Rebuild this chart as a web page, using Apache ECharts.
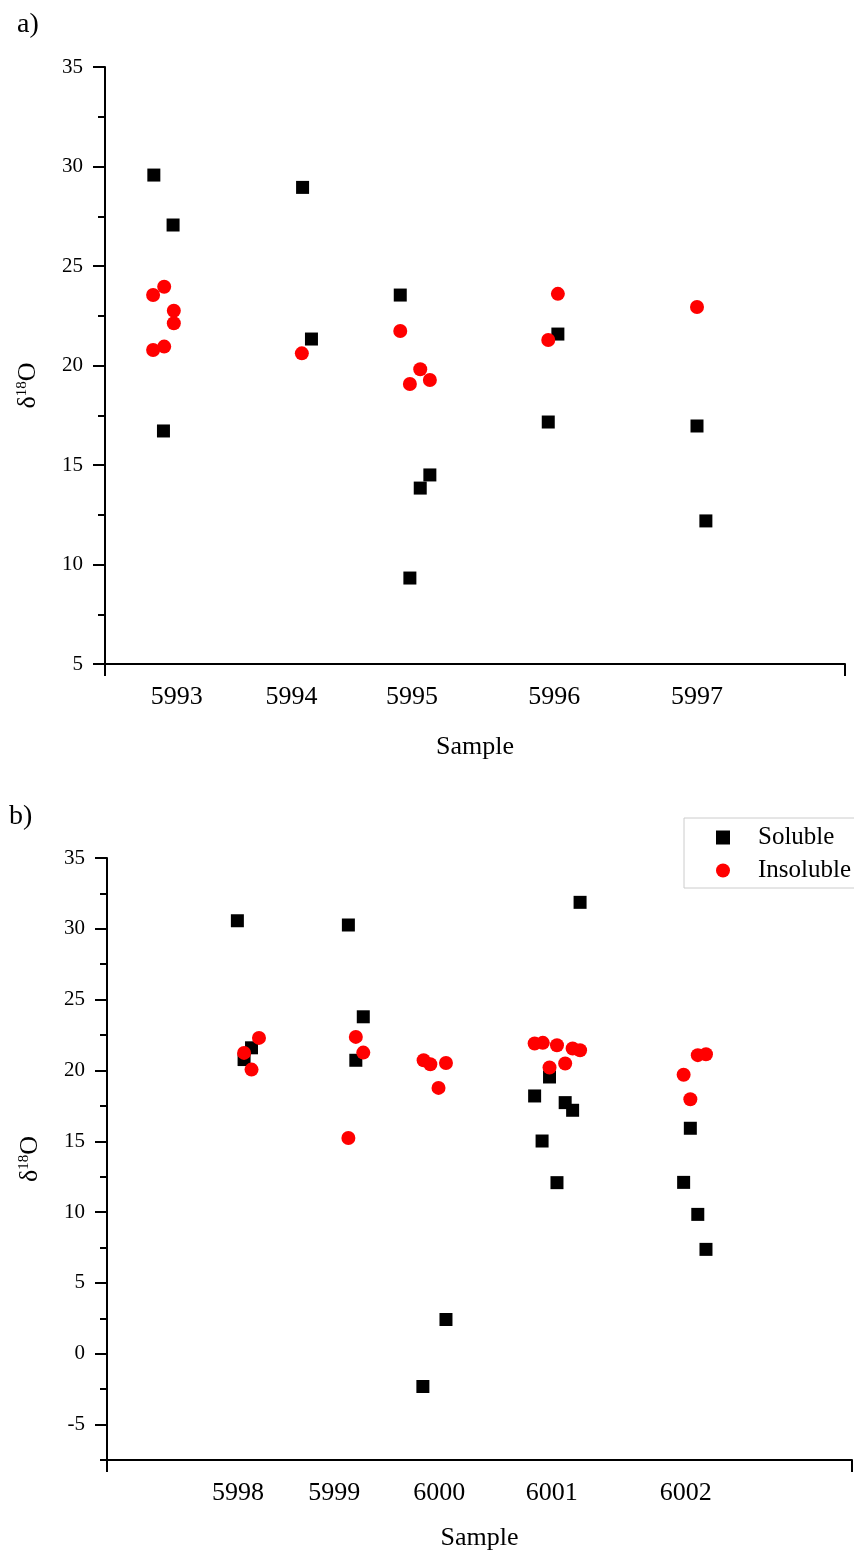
<!DOCTYPE html>
<html>
<head>
<meta charset="utf-8">
<title>d18O by sample</title>
<script src="https://cdn.jsdelivr.net/npm/echarts@6/dist/echarts.min.js"></script>
<style>
    html, body { margin: 0; padding: 0; background: #ffffff; }
    #chart { width: 854px; height: 1556px; }
</style>
</head>
<body>
<div id="chart"></div>
<script>
    /**
     * data, x is the jittered position along the axis (0 - 100)
     */
    var sampleNamesA = ['5993', '5994', '5995', '5996', '5997'];
    var samplePosA = [9.7, 25.2, 41.5, 60.7, 80.0];
    var sampleNamesB = ['5998', '5999', '6000', '6001', '6002'];
    var samplePosB = [17.6, 30.5, 44.6, 59.7, 77.7];

    var majorTicksA = [5, 10, 15, 20, 25, 30, 35];
    var minorTicksA = [7.5, 12.5, 17.5, 22.5, 27.5, 32.5];
    var majorTicksB = [-5, 0, 5, 10, 15, 20, 25, 30, 35];
    var minorTicksB = [-7.5, -2.5, 2.5, 7.5, 12.5, 17.5, 22.5, 27.5, 32.5];

    var solubleA = [
        [6.6, 29.57], [9.2, 27.06], [7.9, 16.71],
        [26.7, 28.95], [27.9, 21.33],
        [39.9, 23.54], [42.6, 13.84], [43.9, 14.5], [41.2, 9.32],
        [59.9, 17.16], [61.2, 21.58],
        [80.0, 16.96], [81.2, 12.19]
    ];
    var insolubleA = [
        [6.5, 23.54], [8.0, 23.96], [9.3, 22.75], [9.3, 22.12], [6.5, 20.78], [8.0, 20.95],
        [26.6, 20.61],
        [39.9, 21.73], [42.6, 19.81], [41.2, 19.07], [43.9, 19.27],
        [59.9, 21.28], [61.2, 23.6],
        [80.0, 22.94]
    ];
    var solubleB = [
        [17.5, 30.57], [19.4, 21.6], [18.4, 20.77],
        [32.4, 30.27], [34.4, 23.79], [33.4, 20.72],
        [42.4, -2.31], [45.5, 2.42],
        [63.5, 31.87], [59.4, 19.54], [57.4, 18.2], [61.5, 17.73], [62.5, 17.19], [58.4, 15.02], [60.4, 12.08],
        [78.3, 15.92], [77.4, 12.1], [79.3, 9.84], [80.4, 7.37]
    ];
    var insolubleB = [
        [20.4, 22.3], [18.4, 21.24], [19.4, 20.06],
        [33.4, 22.37], [34.4, 21.26], [32.4, 15.23],
        [42.5, 20.72], [43.4, 20.44], [45.5, 20.53], [44.5, 18.77],
        [57.4, 21.9], [58.5, 21.95], [60.4, 21.78], [62.5, 21.55], [63.5, 21.43], [59.4, 20.21], [61.5, 20.49],
        [77.4, 19.7], [79.3, 21.08], [80.4, 21.15], [78.3, 17.97]
    ];


    var font = '"Liberation Serif", "Times New Roman", serif';
    var chart = echarts.init(document.getElementById('chart'));

    function makeXAxis(gridIndex, names, positions, nameGap) {
        return {
            gridIndex: gridIndex,
            type: 'value',
            min: 0,
            max: 100,
            axisLine: { onZero: false, lineStyle: { color: '#000', width: 2 } },
            axisTick: { customValues: [0, 100], length: 12, lineStyle: { color: '#000', width: 2 } },
            axisLabel: {
                customValues: positions,
                margin: 20,
                fontFamily: font,
                fontSize: 26,
                color: '#000',
                formatter: function (v) {
                    var best = 0;
                    for (var i = 1; i < positions.length; i++) {
                        if (Math.abs(positions[i] - v) < Math.abs(positions[best] - v)) {
                            best = i;
                        }
                    }
                    return names[best];
                }
            },
            splitLine: { show: false },
            name: 'Sample',
            nameLocation: 'middle',
            nameGap: nameGap,
            nameTextStyle: { fontFamily: font, fontSize: 26, color: '#000' }
        };
    }

    // two y axes per grid: one for minor ticks + labels, one for the long major ticks
    function makeYAxes(gridIndex, min, max, majors, minors, namePadding) {
        return [
            {
                gridIndex: gridIndex,
                type: 'value',
                position: 'left',
                min: min,
                max: max,
                axisLine: { show: true, onZero: false, lineStyle: { color: '#000', width: 2 } },
                axisTick: { customValues: minors, length: 7, lineStyle: { color: '#000', width: 2 } },
                axisLabel: {
                    customValues: majors,
                    margin: 22,
                    fontFamily: font,
                    fontSize: 21,
                    color: '#000'
                },
                splitLine: { show: false },
                name: '{d|δ}{s|18}{d|O}',
                nameLocation: 'middle',
                nameGap: 63,
                nameRotate: 90,
                nameTextStyle: {
                    color: '#000',
                    padding: namePadding,
                    rich: {
                        d: { fontFamily: font, fontSize: 26, color: '#000' },
                        s: { fontFamily: font, fontSize: 15, color: '#000', padding: [0, 0, 12, 0] }
                    }
                }
            },
            {
                gridIndex: gridIndex,
                type: 'value',
                position: 'left',
                offset: 0,
                min: min,
                max: max,
                axisLine: { show: false, onZero: false },
                axisTick: { customValues: majors, length: 12, lineStyle: { color: '#000', width: 2 } },
                axisLabel: { show: false },
                splitLine: { show: false }
            }
        ];
    }

    var yAxes = makeYAxes(0, 5, 35, majorTicksA, minorTicksA, [0, 40, 0, 0])
        .concat(makeYAxes(1, -7.5, 35, majorTicksB, minorTicksB, [0, 0, 0, 0]));

    var option = {
        animation: false,
        backgroundColor: '#ffffff',
        title: [
            { text: 'a)', left: 12, top: 6, textStyle: { fontFamily: font, fontSize: 28, fontWeight: 'normal', color: '#000' } },
            { text: 'b)', left: 4, top: 798, textStyle: { fontFamily: font, fontSize: 28, fontWeight: 'normal', color: '#000' } }
        ],
        legend: {
            data: ['Soluble', 'Insoluble'],
            orient: 'vertical',
            left: 684,
            top: 818,
            itemWidth: 14,
            itemHeight: 14,
            itemGap: 8,
            padding: [7, 10, 5, 32],
            borderColor: '#cccccc',
            borderWidth: 1,
            textStyle: { fontFamily: font, fontSize: 25, color: '#000', padding: [0, 0, 0, 23] }
        },
        grid: [
            { left: 105, top: 67, right: 9, height: 597 },
            { left: 107, top: 858, right: 2, height: 602 }
        ],
        xAxis: [
            makeXAxis(0, sampleNamesA, samplePosA, 70),
            makeXAxis(1, sampleNamesB, samplePosB, 65)
        ],
        yAxis: yAxes,
        series: [
            {
                name: 'Soluble', type: 'scatter', xAxisIndex: 0, yAxisIndex: 0,
                symbol: 'rect', symbolSize: 13, itemStyle: { color: '#000000', opacity: 1 }, data: solubleA
            },
            {
                name: 'Insoluble', type: 'scatter', xAxisIndex: 0, yAxisIndex: 0,
                symbol: 'circle', symbolSize: 14, itemStyle: { color: '#ff0000', opacity: 1 }, data: insolubleA
            },
            {
                name: 'Soluble', type: 'scatter', xAxisIndex: 1, yAxisIndex: 2,
                symbol: 'rect', symbolSize: 13, itemStyle: { color: '#000000', opacity: 1 }, data: solubleB
            },
            {
                name: 'Insoluble', type: 'scatter', xAxisIndex: 1, yAxisIndex: 2,
                symbol: 'circle', symbolSize: 14, itemStyle: { color: '#ff0000', opacity: 1 }, data: insolubleB
            }
        ]
    };
    chart.setOption(option);
</script>
</body>
</html>
